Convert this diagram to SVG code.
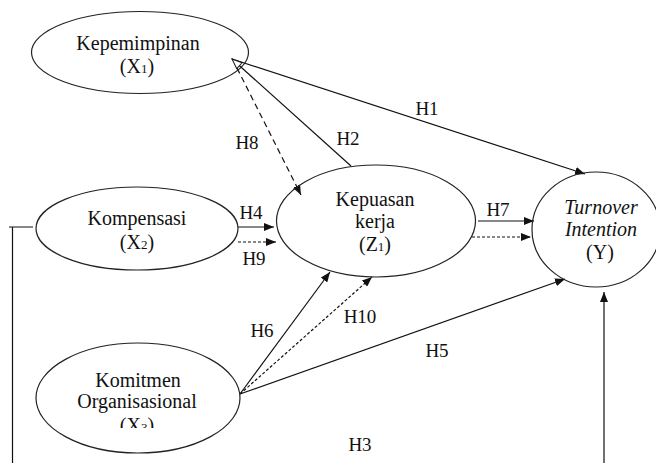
<svg xmlns="http://www.w3.org/2000/svg" width="656" height="463" viewBox="0 0 656 463" font-family="'Liberation Serif', 'Times New Roman', 'DejaVu Serif', serif">
<style>
.node ellipse{fill:none;stroke:#222;stroke-width:1.2}
text{font-family:'Liberation Serif','Times New Roman','DejaVu Serif',serif;fill:#111}
.nt{font-size:20px;text-anchor:middle}
.lb{font-size:19px;text-anchor:middle}
.ln{stroke:#111;stroke-width:1.2;fill:none}
.d1{stroke-dasharray:6 4}
.d2{stroke-dasharray:3 2}
.sub{font-size:13px}
</style>
<defs>
<marker id="arr" viewBox="0 0 10 8" refX="10" refY="4" markerWidth="10" markerHeight="8" markerUnits="userSpaceOnUse" orient="auto">
<path d="M0,0 L10,4 L0,8 z" fill="#111"/>
</marker>
<marker id="arrOpen" viewBox="0 0 12 10" refX="11" refY="5" markerWidth="12" markerHeight="10" markerUnits="userSpaceOnUse" orient="auto">
<path d="M1,1 L11,5 L1,9 z" fill="#fff" stroke="#111" stroke-width="1"/>
</marker>
<clipPath id="clipX3"><rect x="0" y="300" width="300" height="128"/></clipPath>
</defs>

<g id="connectors">
<path class="ln" d="M232,59 L585,174" marker-end="url(#arr)"/>
<path class="ln" d="M351,166 L232,59" marker-end="url(#arrOpen)"/>
<path class="ln d1" d="M237,68 L301,195" marker-end="url(#arr)"/>
<path class="ln" d="M238,227 L274,227" marker-end="url(#arr)"/>
<path class="ln d2" d="M238,242 L276,242" marker-end="url(#arr)"/>
<path class="ln" d="M478,221 L534,221" marker-end="url(#arr)"/>
<path class="ln d2" d="M472,237 L531,237" marker-end="url(#arr)"/>
<path class="ln" d="M240,394 L330,272" marker-end="url(#arr)"/>
<path class="ln d2" d="M240,394 L372,277" marker-end="url(#arr)"/>
<path class="ln" d="M240,394 L565,279" marker-end="url(#arr)"/>
<path class="ln" d="M604,463 L604,292" marker-end="url(#arr)"/>
<path class="ln" d="M9,227 H33 M12.5,227 V463"/>
</g>

<g id="labels">
<text class="lb" x="427" y="115" font-family="Liberation Serif, serif">H1</text>
<text class="lb" x="348" y="145" font-family="Liberation Serif, serif">H2</text>
<text class="lb" x="247" y="149" font-family="Liberation Serif, serif">H8</text>
<text class="lb" x="251" y="219" font-family="Liberation Serif, serif">H4</text>
<text class="lb" x="254" y="265" font-family="Liberation Serif, serif">H9</text>
<text class="lb" x="498" y="216" font-family="Liberation Serif, serif">H7</text>
<text class="lb" x="262" y="337" font-family="Liberation Serif, serif">H6</text>
<text class="lb" x="360" y="323" font-family="Liberation Serif, serif">H10</text>
<text class="lb" x="437" y="357" font-family="Liberation Serif, serif">H5</text>
<text class="lb" x="360" y="451" font-family="Liberation Serif, serif">H3</text>
</g>

<g id="X1" class="node" font-family="Liberation Serif, serif">
<ellipse cx="140" cy="52.5" rx="108.5" ry="41"/>
<text class="nt" x="138" y="50">Kepemimpinan</text>
<text class="nt" x="137" y="73">(X<tspan class="sub">1</tspan>)</text>
</g>

<g id="X2" class="node" font-family="Liberation Serif, serif">
<ellipse cx="137" cy="228.5" rx="101" ry="41.5"/>
<text class="nt" x="137" y="225">Kompensasi</text>
<text class="nt" x="137" y="249">(X<tspan class="sub">2</tspan>)</text>
</g>

<g id="X3" class="node" font-family="Liberation Serif, serif">
<ellipse cx="138" cy="398" rx="102" ry="55"/>
<text class="nt" x="138" y="387">Komitmen</text>
<text class="nt" x="137" y="408">Organisasional</text>
<text class="nt" x="137" y="432" clip-path="url(#clipX3)">(X<tspan class="sub">3</tspan>)</text>
</g>

<g id="Z1" class="node" font-family="Liberation Serif, serif">
<ellipse cx="376" cy="221" rx="99.5" ry="56"/>
<text class="nt" x="375" y="206">Kepuasan</text>
<text class="nt" x="375" y="228">kerja</text>
<text class="nt" x="375" y="251">(Z<tspan class="sub">1</tspan>)</text>
</g>

<g id="Y" class="node" font-family="Liberation Serif, serif">
<ellipse cx="596" cy="229.5" rx="64" ry="57.5"/>
<text class="nt" x="601" y="214" font-style="italic">Turnover</text>
<text class="nt" x="601" y="236" font-style="italic">Intention</text>
<text class="nt" x="600" y="259">(Y)</text>
</g>
</svg>
